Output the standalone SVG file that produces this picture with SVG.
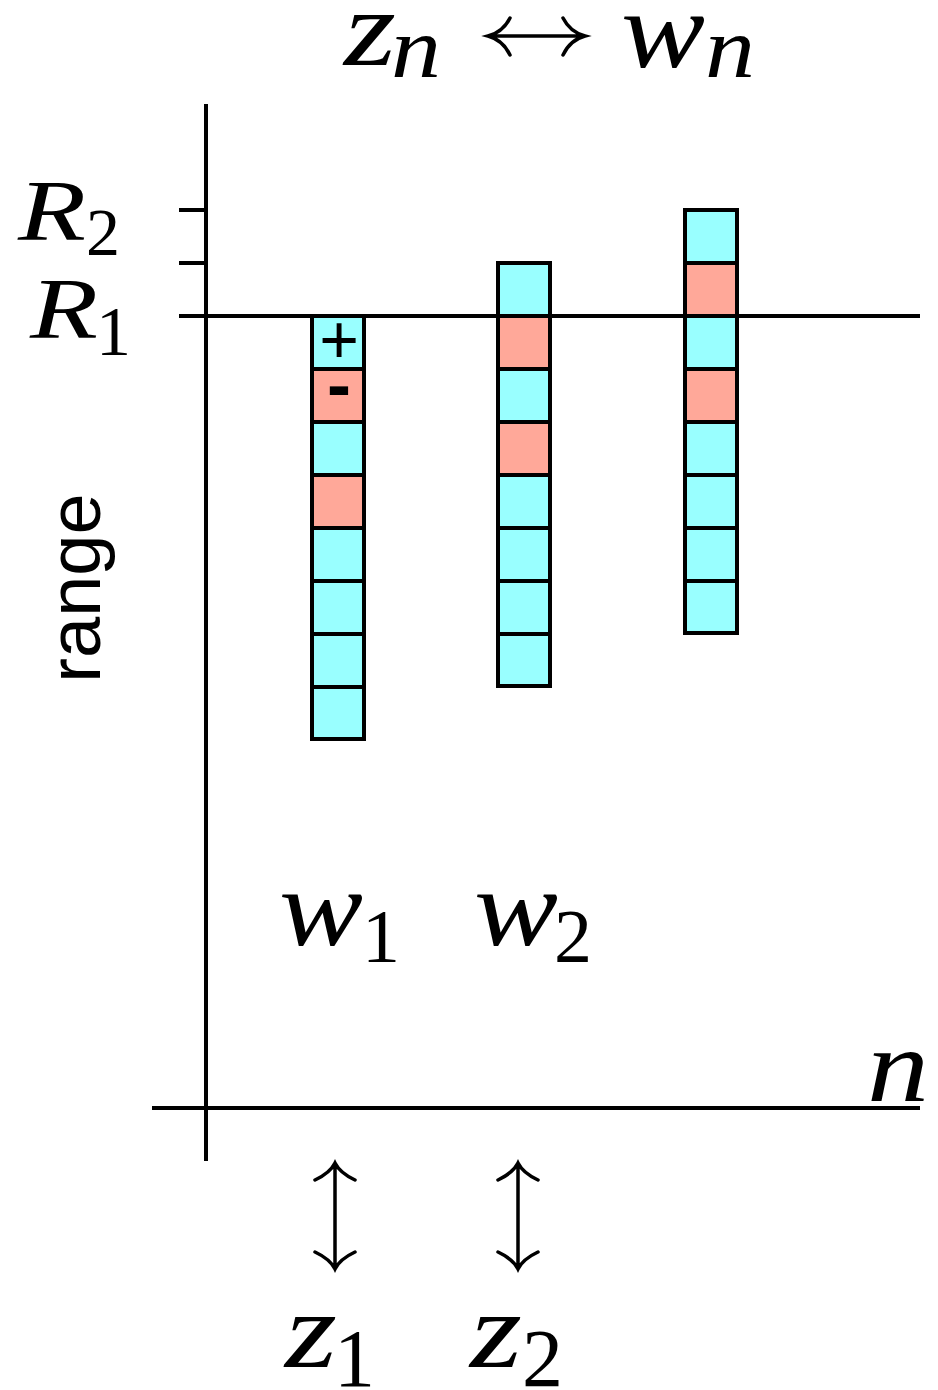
<svg xmlns="http://www.w3.org/2000/svg" width="938" height="1390" viewBox="0 0 938 1390">
<style>
.ax{stroke:#000;stroke-width:4;fill:none}
.c{fill:#99FFFF;stroke:#000;stroke-width:4}
.s{fill:#FFA899;stroke:#000;stroke-width:4}
.m{font-family:'Liberation Serif','Times New Roman',Times,serif;font-style:italic;fill:#000}
.d{font-family:'Liberation Serif','Times New Roman',Times,serif;fill:#000}
.sans{font-family:'Liberation Sans',Arial,sans-serif;fill:#000}
.arr{stroke:#000;stroke-width:3.5;fill:none;stroke-linecap:round}
</style>
<rect width="938" height="1390" fill="#fff"/>
<g id="axes">
<line class="ax" x1="206" y1="104" x2="206" y2="1161"/>
<line class="ax" x1="152" y1="1108" x2="920" y2="1108"/>
<line class="ax" x1="179" y1="210" x2="206" y2="210"/>
<line class="ax" x1="179" y1="263" x2="206" y2="263"/>
</g>
<g id="col1">
<rect class="c" x="312" y="316" width="52" height="53"/>
<rect class="s" x="312" y="369" width="52" height="53"/>
<rect class="c" x="312" y="422" width="52" height="53"/>
<rect class="s" x="312" y="475" width="52" height="53"/>
<rect class="c" x="312" y="528" width="52" height="53"/>
<rect class="c" x="312" y="581" width="52" height="53"/>
<rect class="c" x="312" y="634" width="52" height="53"/>
<rect class="c" x="312" y="687" width="52" height="52"/>
<text class="sans" x="339" y="363" font-size="68" text-anchor="middle">+</text>
<text class="sans" x="339" y="409" font-size="72" font-weight="bold" text-anchor="middle">-</text>
</g>
<g id="col2">
<rect class="c" x="498" y="263" width="52" height="53"/>
<rect class="s" x="498" y="316" width="52" height="53"/>
<rect class="c" x="498" y="369" width="52" height="53"/>
<rect class="s" x="498" y="422" width="52" height="53"/>
<rect class="c" x="498" y="475" width="52" height="53"/>
<rect class="c" x="498" y="528" width="52" height="53"/>
<rect class="c" x="498" y="581" width="52" height="53"/>
<rect class="c" x="498" y="634" width="52" height="52"/>
</g>
<g id="col3">
<rect class="c" x="685" y="210" width="52" height="53"/>
<rect class="s" x="685" y="263" width="52" height="53"/>
<rect class="c" x="685" y="316" width="52" height="53"/>
<rect class="s" x="685" y="369" width="52" height="53"/>
<rect class="c" x="685" y="422" width="52" height="53"/>
<rect class="c" x="685" y="475" width="52" height="53"/>
<rect class="c" x="685" y="528" width="52" height="53"/>
<rect class="c" x="685" y="581" width="52" height="52"/>
</g>
<g id="r1line">
<line class="ax" x1="179" y1="316" x2="920" y2="316"/>
</g>
<g id="title">
<text class="m" x="344" y="65" font-size="108" textLength="52" lengthAdjust="spacingAndGlyphs">z</text>
<text class="m" x="391" y="77" font-size="86" textLength="50" lengthAdjust="spacingAndGlyphs">n</text>
<text class="m" x="621" y="67" font-size="110" textLength="84" lengthAdjust="spacingAndGlyphs">w</text>
<text class="m" x="705" y="77" font-size="86" textLength="50" lengthAdjust="spacingAndGlyphs">n</text>
</g>
<g id="labels">
<text class="m" x="18" y="240" font-size="86" textLength="68" lengthAdjust="spacingAndGlyphs">R</text>
<text class="d" x="86" y="255" font-size="68">2</text>
<text class="m" x="30" y="338" font-size="86" textLength="68" lengthAdjust="spacingAndGlyphs">R</text>
<text class="d" x="96" y="355" font-size="70">1</text>
<text class="sans" transform="translate(100,588) rotate(-90)" font-size="74" text-anchor="middle">range</text>
<text class="m" x="279" y="945" font-size="110" textLength="84" lengthAdjust="spacingAndGlyphs">w</text>
<text class="d" x="362" y="962" font-size="76">1</text>
<text class="m" x="474" y="945" font-size="110" textLength="84" lengthAdjust="spacingAndGlyphs">w</text>
<text class="d" x="554" y="962" font-size="76">2</text>
<text class="m" x="867" y="1101" font-size="104" textLength="62" lengthAdjust="spacingAndGlyphs">n</text>
<text class="m" x="285" y="1367" font-size="108" textLength="52" lengthAdjust="spacingAndGlyphs">z</text>
<text class="d" x="334" y="1386" font-size="82">1</text>
<text class="m" x="470" y="1367" font-size="108" textLength="52" lengthAdjust="spacingAndGlyphs">z</text>
<text class="d" x="522" y="1386" font-size="82">2</text>
</g>
<g id="connectors">
<path class="arr" d="M488 36 L585 36 M510 18 Q503 32 488 36 Q503 40 510 55 M563 18 Q570 32 585 36 Q570 40 563 55"/>
<path class="arr" d="M335 1163 L335 1269 M315 1180 Q330 1173 335 1163 Q340 1173 355 1180 M315 1252 Q330 1259 335 1269 Q340 1259 355 1252"/>
<path class="arr" d="M518 1163 L518 1269 M498 1180 Q513 1173 518 1163 Q523 1173 538 1180 M498 1252 Q513 1259 518 1269 Q523 1259 538 1252"/>
</g>
</svg>
